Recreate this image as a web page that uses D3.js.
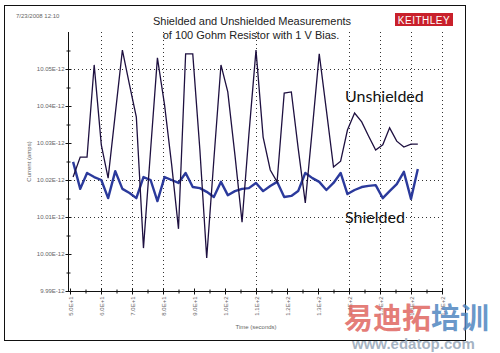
<!DOCTYPE html>
<html lang="en">
<head>
<meta charset="UTF-8">
<title>Shielded and Unshielded Measurements</title>
<script src="https://d3js.org/d3.v7.min.js"></script>
<style>
    body { margin: 0; background: #fff; }
    svg { display: block; }
    .tick-label { font-family: Arial, "Liberation Sans", sans-serif; font-size: 6px; fill: #666; }
</style>
</head>
<body>
<svg id="chart" width="500" height="353"></svg>
<script>
// time of each sample (seconds)
const times = [51.0, 53.3, 55.5, 57.8, 60.1, 62.3, 64.6, 66.9, 69.2, 71.4,
               73.7, 76.0, 78.2, 80.5, 82.8, 85.0, 87.3, 89.6, 91.9, 94.1,
               96.4, 98.7, 100.9, 103.2, 105.5, 107.7, 110.0, 112.3, 114.6, 116.8,
               119.1, 121.4, 123.6, 125.9, 128.2, 130.4, 132.7, 135.0, 137.3, 139.5,
               141.8, 144.1, 146.3, 148.6, 150.9, 153.1, 155.4, 157.7, 160.0, 162.2];

// current in pA (E-12 A)
const unshielded = [10.0208, 10.0262, 10.0262, 10.0511, 10.0295, 10.0205, 10.0378, 10.0551, 10.0457, 10.0370,
                    10.0016, 10.0281, 10.0530, 10.0403, 10.0241, 10.0068, 10.0541, 10.0541, 10.0281, 9.9989,
                    10.0254, 10.0511, 10.0438, 10.0268, 10.0086, 10.0322, 10.0551, 10.0316, 10.0227, 10.0195,
                    10.0435, 10.0438, 10.0286, 10.0138, 10.0341, 10.0541, 10.0389, 10.0235, 10.0251, 10.0335,
                    10.0381, 10.0357, 10.0319, 10.0281, 10.0295, 10.0341, 10.0305, 10.0289, 10.0297, 10.0297];

const shielded = [10.0249, 10.0176, 10.0219, 10.0208, 10.0200, 10.0151, 10.0224, 10.0176, 10.0165, 10.0151,
                  10.0208, 10.0200, 10.0143, 10.0208, 10.0200, 10.0192, 10.0219, 10.0181, 10.0178, 10.0168,
                  10.0154, 10.0195, 10.0159, 10.0170, 10.0176, 10.0178, 10.0192, 10.0170, 10.0184, 10.0195,
                  10.0154, 10.0157, 10.0170, 10.0219, 10.0205, 10.0195, 10.0173, 10.0192, 10.0219, 10.0162,
                  10.0173, 10.0181, 10.0184, 10.0186, 10.0151, 10.0170, 10.0189, 10.0222, 10.0149, 10.0230];

const xTicks = [50, 60, 70, 80, 90, 100, 110, 120, 130, 140, 150, 160, 170];
const xTickLabels = ["5.0E+1", "6.0E+1", "7.0E+1", "8.0E+1", "9.0E+1", "1.0E+2", "1.1E+2",
                     "1.2E+2", "1.3E+2", "1.4E+2", "1.5E+2", "1.6E+2", "1.7E+2"];
const xGrid = [60, 70, 80, 110, 140, 150, 160, 170];

const yTicks = [9.99, 10.00, 10.01, 10.02, 10.03, 10.04, 10.05];
const yTickLabels = ["9.99E-12", "10.00E-12", "10.01E-12", "10.02E-12", "10.03E-12", "10.04E-12", "10.05E-12"];
const yGrid = [10.01, 10.02, 10.05];

const svg = d3.select("#chart");

// scales
const x = d3.scaleLinear().domain([50, 170]).range([70, 442]);
const y = d3.scaleLinear().domain([9.99, 10.06]).range([291, 32]);

// outer frame
svg.append("rect")
    .attr("x", 4.5).attr("y", 5.5)
    .attr("width", 461).attr("height", 335)
    .attr("fill", "none").attr("stroke", "#111").attr("stroke-width", 1);

// date stamp
svg.append("text")
    .attr("x", 16).attr("y", 18)
    .attr("class", "tick-label")
    .text("7/23/2008 12:10");

// title
svg.append("text")
    .attr("x", 252).attr("y", 25)
    .attr("text-anchor", "middle")
    .style("font-family", "Arial, 'Liberation Sans', sans-serif")
    .style("font-size", "11px").attr("fill", "#222")
    .text("Shielded and Unshielded Measurements");
svg.append("text")
    .attr("x", 251).attr("y", 39)
    .attr("text-anchor", "middle")
    .style("font-family", "Arial, 'Liberation Sans', sans-serif")
    .style("font-size", "11px").attr("fill", "#222")
    .text("of 100 Gohm Resistor with 1 V Bias.");

// logo
svg.append("rect")
    .attr("x", 395).attr("y", 13).attr("width", 58).attr("height", 13)
    .attr("fill", "#c9202b");
svg.append("text")
    .attr("x", 424).attr("y", 23.5)
    .attr("text-anchor", "middle")
    .style("font-family", "Arial, 'Liberation Sans', sans-serif")
    .style("font-size", "10px").style("letter-spacing", "0.5px")
    .attr("fill", "#fff")
    .text("KEITHLEY");

// grid
svg.append("g").selectAll("line")
    .data(xGrid).join("line")
    .attr("x1", d => x(d) + 0.5).attr("x2", d => x(d) + 0.5)
    .attr("y1", y(10.06)).attr("y2", y(9.99))
    .attr("stroke", "#333").attr("stroke-width", 1).attr("stroke-dasharray", "1,3");
svg.append("g").selectAll("line")
    .data(yGrid).join("line")
    .attr("x1", x(50)).attr("x2", x(170))
    .attr("y1", d => y(d) + 0.5).attr("y2", d => y(d) + 0.5)
    .attr("stroke", "#333").attr("stroke-width", 1).attr("stroke-dasharray", "1,3");

// minor ticks at midpoints
const xMinor = xTicks.slice(0, -1).map((d, i) => (d + xTicks[i + 1]) / 2);
const yMinor = yTicks.map(d => d + 0.005);

// x axis
const xAxis = svg.append("g")
    .attr("transform", `translate(0,${y(9.99) + 0.5})`)
    .call(d3.axisBottom(x).tickValues(xTicks).tickSize(3).tickFormat((d, i) => xTickLabels[i]));
xAxis.select(".domain").attr("d", `M68,0H${x(170)}`).attr("stroke", "#111");
xAxis.selectAll(".tick line").attr("y1", -3).attr("stroke", "#111");
xAxis.selectAll(".tick text")
    .attr("class", "tick-label")
    .attr("transform", "rotate(-90)")
    .attr("text-anchor", "end")
    .attr("x", -5).attr("y", 0).attr("dy", "0.35em");
xAxis.selectAll(".minor").data(xMinor).join("line")
    .attr("class", "minor")
    .attr("x1", d => x(d) + 0.5).attr("x2", d => x(d) + 0.5)
    .attr("y1", -2).attr("y2", 2).attr("stroke", "#111");

// y axis
const yAxis = svg.append("g")
    .attr("transform", `translate(68.5,0)`)
    .call(d3.axisLeft(y).tickValues(yTicks).tickSize(3).tickFormat((d, i) => yTickLabels[i]));
yAxis.select(".domain").attr("d", `M0,${y(10.06)}V${y(9.99)}`).attr("stroke", "#111");
yAxis.selectAll(".tick line").attr("x1", 3).attr("stroke", "#111");
yAxis.selectAll(".tick text").attr("class", "tick-label").attr("x", -4);
yAxis.selectAll(".minor").data(yMinor).join("line")
    .attr("class", "minor")
    .attr("y1", d => y(d) + 0.5).attr("y2", d => y(d) + 0.5)
    .attr("x1", -2).attr("x2", 2).attr("stroke", "#111");

// axis titles
svg.append("text")
    .attr("transform", `translate(31,${(y(10.06) + y(9.99)) / 2}) rotate(-90)`)
    .attr("text-anchor", "middle")
    .attr("class", "tick-label")
    .text("Current (amps)");
svg.append("text")
    .attr("x", (x(50) + x(170)) / 2).attr("y", 329)
    .attr("text-anchor", "middle")
    .attr("class", "tick-label")
    .text("Time (seconds)");

// lines
const line = vals => d3.line()
    .x((d, i) => x(times[i]))
    .y(d => y(d))(vals);

svg.append("path")
    .attr("d", line(shielded))
    .attr("fill", "none").attr("stroke", "#2b3a9c").attr("stroke-width", 2.4)
    .attr("stroke-linejoin", "round");
svg.append("path")
    .attr("d", line(unshielded))
    .attr("fill", "none").attr("stroke", "#1e1040").attr("stroke-width", 1.3)
    .attr("stroke-linejoin", "miter");

// annotations
svg.append("text")
    .attr("x", 345).attr("y", 102)
    .style("font-family", "Lato, 'Open Sans', sans-serif")
    .style("font-size", "16px").attr("fill", "#111")
    .text("Unshielded");
svg.append("text")
    .attr("x", 345).attr("y", 223)
    .style("font-family", "Lato, 'Open Sans', sans-serif")
    .style("font-size", "16px").attr("fill", "#111")
    .text("Shielded");

// site watermark
const wm = svg.append("text")
    .attr("x", 344).attr("y", 329)
    .style("font-family", "'Noto Sans CJK SC', sans-serif")
    .style("font-size", "29px").style("font-weight", "bold");
wm.append("tspan").attr("fill", "#e0655f").attr("fill-opacity", 0.85).text("易迪拓");
wm.append("tspan").attr("fill", "#4f86c0").attr("fill-opacity", 0.85).text("培训");
svg.append("text")
    .attr("x", 352).attr("y", 349)
    .style("font-family", "Arial, 'Liberation Sans', sans-serif")
    .style("font-size", "15px").style("font-weight", "bold")
    .attr("fill", "#9aaabb").attr("fill-opacity", 0.9)
    .text("www.edatop.com");
</script>
</body>
</html>
